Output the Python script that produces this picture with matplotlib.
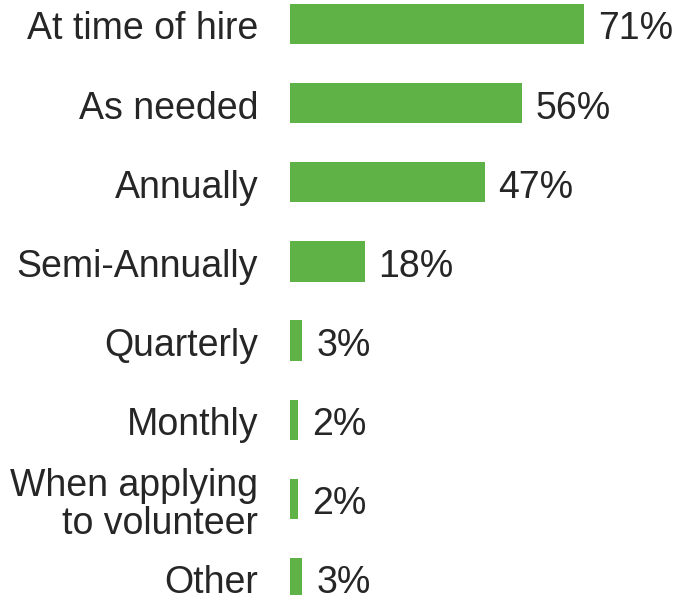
import matplotlib.pyplot as plt
from matplotlib.transforms import ScaledTranslation

# frequency of background checks, share of respondents (%)
categories = ["At time of hire", "As needed", "Annually", "Semi-Annually",
              "Quarterly", "Monthly", "When applying\nto volunteer", "Other"]
values = [71, 56, 47, 18, 3, 2, 2, 3]
labels = ["71%", "56%", "47%", "18%", "3%", "2%", "2%", "3%"]

bar_color = "#5FB246"
text_color = "#262626"
fs = 27

plt.rcParams["font.family"] = ["Liberation Sans", "DejaVu Sans"]

fig = plt.figure(figsize=(6.77, 5.95), dpi=100)
ax = fig.add_axes([290 / 677, 0, 387 / 677, 1])

ypos = list(range(len(categories)))
ax.barh(ypos, values, height=0.51, color=bar_color)

for y, v, lab in zip(ypos, values, labels):
    ax.annotate(lab, (v, y), xytext=(10, -1), textcoords="offset points",
                va="center_baseline", ha="left", fontsize=fs, color=text_color)

ax.set_xlim(0, 93.5)
ax.set_ylim(7.215, -0.303)
ax.set_yticks(ypos)
ax.set_yticklabels(categories, fontsize=fs, color=text_color, linespacing=1.05)
ax.tick_params(axis="y", length=0, pad=23)
shift = ScaledTranslation(0, -1 / 72, fig.dpi_scale_trans)
for t in ax.get_yticklabels():
    t.set_transform(t.get_transform() + shift)
ax.set_xticks([])
for s in ax.spines.values():
    s.set_visible(False)

fig.savefig("out.png", dpi=100)
